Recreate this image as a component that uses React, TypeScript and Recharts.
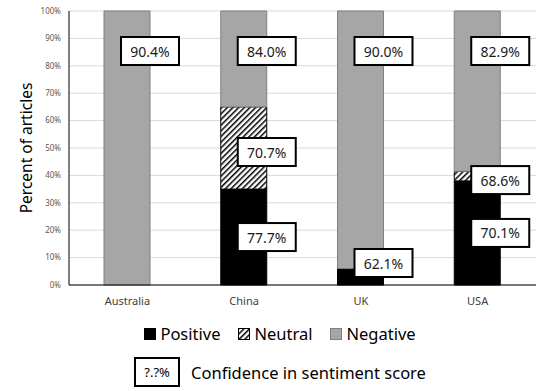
import React from 'react';
import { BarChart, Bar, XAxis, YAxis, CartesianGrid, LabelList } from 'recharts';

const countries = ['Australia', 'China', 'UK', 'USA'];
const positive = [0, 35, 6, 38];
const neutral = [0, 30, 0, 3.5];
const negative = [100, 35, 94, 58.5];
const positiveConfidence = [null, 77.7, 62.1, 70.1];
const neutralConfidence = [null, 70.7, null, 68.6];
const negativeConfidence = [90.4, 84.0, 90.0, 82.9];
const yTicks = [0, 10, 20, 30, 40, 50, 60, 70, 80, 90, 100];

const data = countries.map((c, i) => ({
  country: c,
  positive: positive[i],
  neutral: neutral[i],
  negative: negative[i],
  posConf: positiveConfidence[i],
  neuConf: neutralConfidence[i],
  negConf: negativeConfidence[i],
}));

const FONT = '"Noto Sans", sans-serif';
const BOX_W = 58;
const BOX_H = 28;

const ConfBox = ({ cx, cy, value }: { cx: number; cy: number; value: number }) => (
  <g>
    <rect x={cx - BOX_W / 2} y={cy - BOX_H / 2} width={BOX_W} height={BOX_H} fill="#fff" stroke="#000" strokeWidth={2} />
    <text x={cx} y={cy} textAnchor="middle" dominantBaseline="central" fontFamily={FONT} fontSize={14} fill="#1a1a1a">
      {value.toFixed(1)}%
    </text>
  </g>
);

// kind decides where the box sits against its segment
const makeLabel = (kind: 'pos' | 'neu' | 'neg') => (props: any) => {
  const { x, y, width, height, value } = props;
  if (value == null) return null;
  const cx = Number(x) + Number(width);
  let cy: number;
  if (kind === 'neg') {
    cy = Number(y) + 40;
  } else if (kind === 'pos') {
    cy = Math.min(Number(y) + Number(height) / 2, Number(y) + Number(height) - 22);
  } else {
    cy = Number(y) + Number(height) / 2 + 4;
  }
  return <ConfBox cx={cx} cy={cy} value={Number(value)} />;
};

const HatchDef = ({ id }: { id: string }) => (
  <pattern id={id} patternUnits="userSpaceOnUse" width={4} height={4} patternTransform="rotate(45)">
    <rect width={4} height={4} fill="#fff" />
    <line x1={0} y1={0} x2={0} y2={4} stroke="#000" strokeWidth={3} />
  </pattern>
);

const legendItems = [
  { name: 'Positive', fill: '#000', stroke: '#000' },
  { name: 'Neutral', fill: 'url(#hatch-legend)', stroke: '#000' },
  { name: 'Negative', fill: '#a6a6a6', stroke: '#7f7f7f' },
];

export default function App() {
  return (
    <div style={{ position: 'absolute', left: 0, top: 0, width: 548, height: 391, background: '#fff', fontFamily: FONT }}>
      <BarChart
        width={548}
        height={391}
        data={data}
        margin={{ top: 11, right: 12, left: 0, bottom: 76 }}
        barSize={46}
      >
        <defs>
          <HatchDef id="hatch" />
        </defs>
        <CartesianGrid vertical={false} stroke="#d9d9d9" />
        <XAxis
          dataKey="country"
          height={30}
          tickLine={false}
          axisLine={{ stroke: '#000' }}
          tickMargin={6}
          tick={{ fill: '#404040', fontSize: 11, fontFamily: FONT }}
        />
        <YAxis
          width={69}
          domain={[0, 100]}
          ticks={yTicks}
          tickFormatter={(v: number) => `${v}%`}
          tickLine={false}
          axisLine={{ stroke: '#000' }}
          tick={{ fill: '#595959', fontSize: 8, fontFamily: FONT }}
          label={{
            content: () => (
              <text transform="translate(26,148) rotate(-90)" textAnchor="middle" dominantBaseline="central" fontFamily={FONT} fontSize={15.5} fill="#000">
                Percent of articles
              </text>
            ),
          }}
        />
        <Bar dataKey="positive" stackId="s" fill="#000" stroke="#000" isAnimationActive={false}>
          <LabelList dataKey="posConf" content={makeLabel('pos')} />
        </Bar>
        <Bar dataKey="neutral" stackId="s" fill="url(#hatch)" stroke="#000" isAnimationActive={false}>
          <LabelList dataKey="neuConf" content={makeLabel('neu')} />
        </Bar>
        <Bar dataKey="negative" stackId="s" fill="#a6a6a6" stroke="#7f7f7f" isAnimationActive={false}>
          <LabelList dataKey="negConf" content={makeLabel('neg')} />
        </Bar>
      </BarChart>

      <div style={{ position: 'absolute', left: 6, top: 323, width: 548, display: 'flex', justifyContent: 'center', alignItems: 'center', gap: 18, fontSize: 16.5, color: '#000' }}>
        {legendItems.map((it) => (
          <div key={it.name} style={{ display: 'flex', alignItems: 'center', gap: 4 }}>
            <svg width={12} height={12}>
              <defs>
                <HatchDef id="hatch-legend" />
              </defs>
              <rect x={0.5} y={0.5} width={11} height={11} fill={it.fill} stroke={it.stroke} />
            </svg>
            <span style={{ lineHeight: '22px' }}>{it.name}</span>
          </div>
        ))}
      </div>

      <div style={{ position: 'absolute', left: 6, top: 357, width: 548, display: 'flex', justifyContent: 'center', alignItems: 'center', gap: 11, fontSize: 16.5, color: '#000' }}>
        <div style={{ width: 42, height: 26, border: '2px solid #000', display: 'flex', alignItems: 'center', justifyContent: 'center', fontSize: 13 }}>
          ?.?%
        </div>
        <span>Confidence in sentiment score</span>
      </div>
    </div>
  );
}
